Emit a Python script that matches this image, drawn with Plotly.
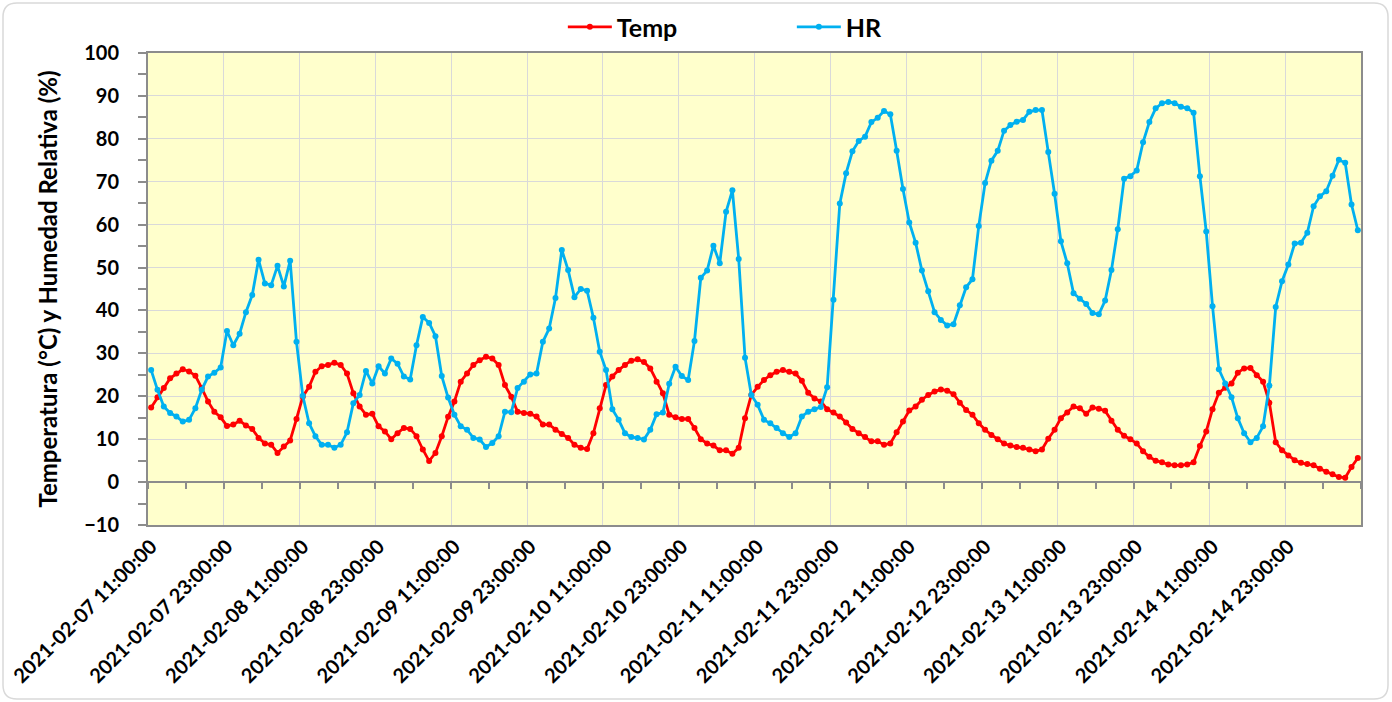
import pandas as pd
import plotly.graph_objects as go

# ---------------- data ----------------
start_time = "2021-02-07 11:00"
n_points = 192

temp = [
    17.4, 19.8, 21.9, 24.2, 25.3, 26.3, 25.8, 24.8, 21.9, 18.8, 16.4, 15.1, 13.1, 13.4, 14.3, 13.2, 12.4, 10.3, 9.0, 8.7, 6.8, 8.3, 9.7, 14.7,
    19.9, 22.2, 25.7, 27.0, 27.3, 27.8, 27.3, 25.3, 20.7, 17.6, 15.7, 15.9, 13.0, 11.8, 10.0, 11.4, 12.6, 12.4, 10.7, 7.6, 4.9, 6.8, 10.7, 15.2,
    18.8, 23.4, 25.3, 27.3, 28.4, 29.2, 28.8, 27.3, 22.6, 19.9, 16.4, 16.1, 15.9, 15.3, 13.4, 13.4, 12.2, 11.2, 10.3, 8.7, 8.0, 7.7, 11.4, 17.2,
    22.6, 24.6, 26.1, 27.3, 28.3, 28.6, 28.0, 26.5, 23.4, 20.7, 15.7, 15.1, 14.7, 14.7, 12.6, 10.0, 9.0, 8.5, 7.4, 7.4, 6.6, 8.0, 14.9, 20.3,
    22.2, 23.8, 24.9, 25.7, 26.1, 25.7, 25.3, 23.6, 20.8, 19.5, 18.8, 17.0, 16.2, 15.3, 13.9, 12.4, 11.4, 10.5, 9.5, 9.5, 8.7, 9.0, 11.6, 14.1,
    16.7, 17.6, 19.2, 20.3, 21.1, 21.6, 21.3, 20.5, 18.5, 16.8, 15.7, 13.7, 12.2, 11.0, 10.0, 9.0, 8.5, 8.2, 8.0, 7.6, 7.2, 7.6, 10.1, 12.2,
    14.9, 16.2, 17.6, 17.2, 15.9, 17.4, 17.1, 16.6, 14.3, 12.2, 10.8, 10.0, 9.0, 7.2, 5.9, 5.0, 4.6, 4.1, 3.9, 3.9, 4.1, 4.6, 8.4, 11.8,
    17.0, 20.8, 22.0, 23.0, 25.5, 26.5, 26.6, 24.9, 23.4, 18.5, 9.3, 7.4, 6.2, 5.1, 4.5, 4.2, 3.9, 3.1, 2.4, 1.8, 1.2, 1.0, 3.5, 5.6,
]

hr = [
    26.1, 21.5, 17.6, 16.1, 15.3, 14.1, 14.5, 17.2, 21.5, 24.6, 25.5, 26.7, 35.2, 31.9, 34.6, 39.6, 43.6, 51.8, 46.3, 45.9, 50.4, 45.6, 51.6, 32.7,
    20.1, 13.7, 10.7, 8.7, 8.7, 8.0, 8.7, 11.6, 18.4, 20.3, 25.9, 23.0, 27.0, 25.3, 28.8, 27.6, 24.6, 23.9, 31.9, 38.5, 37.1, 34.0, 24.7, 19.7,
    15.7, 13.0, 12.2, 10.3, 9.9, 8.2, 9.1, 10.7, 16.4, 16.3, 21.9, 23.4, 25.1, 25.3, 32.7, 35.8, 42.9, 54.1, 49.4, 43.1, 45.0, 44.6, 38.3, 30.4,
    26.1, 17.0, 14.5, 11.4, 10.5, 10.3, 9.9, 12.2, 15.8, 16.2, 22.9, 26.9, 24.7, 23.8, 32.9, 47.6, 49.3, 55.1, 51.0, 63.0, 68.0, 52.0, 29.0, 20.3,
    18.0, 14.5, 13.7, 12.6, 11.4, 10.5, 11.4, 15.3, 16.4, 17.0, 17.5, 22.1, 42.5, 64.9, 72.0, 77.1, 79.5, 80.5, 83.9, 84.9, 86.5, 85.7, 77.2, 68.3,
    60.5, 55.8, 49.3, 44.5, 39.6, 37.8, 36.5, 36.8, 41.2, 45.4, 47.3, 59.7, 69.7, 74.9, 77.2, 81.9, 83.2, 84.0, 84.4, 86.3, 86.7, 86.7, 76.9, 67.2,
    56.1, 51.0, 44.0, 42.7, 41.5, 39.4, 39.1, 42.3, 49.4, 58.9, 70.7, 71.3, 72.6, 79.2, 83.9, 87.1, 88.3, 88.6, 88.3, 87.5, 87.1, 86.1, 71.3, 58.4,
    41.0, 26.3, 23.0, 19.8, 14.9, 11.4, 9.3, 10.3, 13.0, 22.5, 40.8, 46.8, 50.7, 55.6, 55.8, 58.1, 64.3, 66.6, 67.8, 71.4, 75.1, 74.4, 64.7, 58.7,
]

tick_labels = [
    "2021-02-07 11:00:00", "2021-02-07 23:00:00", "2021-02-08 11:00:00", "2021-02-08 23:00:00",
    "2021-02-09 11:00:00", "2021-02-09 23:00:00", "2021-02-10 11:00:00", "2021-02-10 23:00:00",
    "2021-02-11 11:00:00", "2021-02-11 23:00:00", "2021-02-12 11:00:00", "2021-02-12 23:00:00",
    "2021-02-13 11:00:00", "2021-02-13 23:00:00", "2021-02-14 11:00:00", "2021-02-14 23:00:00",
]

series_names = ["Temp", "HR"]
y_title = "Temperatura (°C) y Humedad Relativa (%)"

# ---------------- figure ----------------
times = pd.date_range(start_time, periods=n_points, freq="h")
tick_times = pd.to_datetime(tick_labels)
half_hour = pd.Timedelta(minutes=30)
x_range = [times[0] - half_hour, times[-1] + half_hour]
H = 3600 * 1000

RED = "#FF0000"
BLUE = "#00B0F0"
FONT = "Lato"

fig = go.Figure()
for name, vals, col in [(series_names[0], temp, RED), (series_names[1], hr, BLUE)]:
    fig.add_trace(go.Scatter(
        x=times, y=vals, name=name, mode="lines+markers",
        line=dict(color=col, width=2.8),
        marker=dict(color=col, size=6),
    ))

# helper trace so the zero-line axis is rendered
fig.add_trace(go.Scatter(x=[times[0]], y=[None], xaxis="x2", showlegend=False,
                         hoverinfo="skip", mode="lines"))

GRID = "#D9D9D9"
AX = "#8C8C8C"

ML, MR, MT, MB = 148, 31, 53, 177
fig.update_layout(
    width=1392, height=702,
    margin=dict(l=ML, r=MR, t=MT, b=MB, autoexpand=False),
    paper_bgcolor="white",
    plot_bgcolor="#FFFFCC",
    font=dict(family=FONT, size=18, color="black", weight="bold"),
    showlegend=True,
    legend=dict(orientation="h", x=0.342, xanchor="left", y=1.055, yanchor="middle",
                font=dict(family=FONT, size=25, weight="bold"),
                itemwidth=44,
                entrywidth=170, entrywidthmode="pixels", bgcolor="rgba(0,0,0,0)"),
    xaxis=dict(
        range=x_range, type="date", automargin=False,
        tickmode="array", tickvals=tick_times, ticktext=tick_labels,
        tickangle=-45, tickfont=dict(family=FONT, size=20, weight="bold"),
        showgrid=False, ticks="",
        showline=True, linecolor=AX, linewidth=2, mirror=True,
        minor=dict(tickmode="linear", tick0=x_range[0], dtick=12 * H,
                   showgrid=True, gridcolor=GRID, gridwidth=1, ticks=""),
        zeroline=False,
    ),
    xaxis2=dict(
        range=x_range, type="date", overlaying="x", anchor="free", position=10 / 110,
        tickmode="linear", tick0=x_range[0], dtick=6 * H,
        ticks="outside", ticklen=6, tickwidth=2, tickcolor=AX,
        showticklabels=False, showgrid=False,
        showline=True, linecolor=AX, linewidth=2,
    ),
    yaxis=dict(
        range=[-10, 100], tickmode="linear", tick0=-10, dtick=10, automargin=False,
        tickfont=dict(family=FONT, size=20, weight="bold"),
        ticks="outside", ticklen=8, tickwidth=2, tickcolor=AX,
        minor=dict(dtick=5, ticks="outside", ticklen=8, tickwidth=2, tickcolor=AX, showgrid=False),
        showgrid=True, gridcolor=GRID, gridwidth=1,
        showline=True, linecolor=AX, linewidth=2, mirror=True,
        zeroline=False,
        ticklabelstandoff=15,
        title=dict(text=y_title, font=dict(family=FONT, size=24, weight="bold"), standoff=20),
    ),
)

# outer chart border (rounded)
pw, ph = 1392 - ML - MR, 702 - MT - MB
def px(xp): return (xp - ML) / pw
def py(yp): return (702 - MB - yp) / ph
x0, x1, y0, y1 = px(3), px(1388), py(699), py(3)
rx, ry = 14 / pw, 14 / ph
path = (f"M {x0+rx},{y1} L {x1-rx},{y1} Q {x1},{y1} {x1},{y1-ry} "
        f"L {x1},{y0+ry} Q {x1},{y0} {x1-rx},{y0} L {x0+rx},{y0} "
        f"Q {x0},{y0} {x0},{y0+ry} L {x0},{y1-ry} Q {x0},{y1} {x0+rx},{y1} Z")
fig.add_shape(type="path", path=path, xref="paper", yref="paper",
              line=dict(color="#D9D9D9", width=1.5), layer="below")

fig.write_html("out.html", config={"displayModeBar": False},
               post_script="document.body.style.margin='0';")
